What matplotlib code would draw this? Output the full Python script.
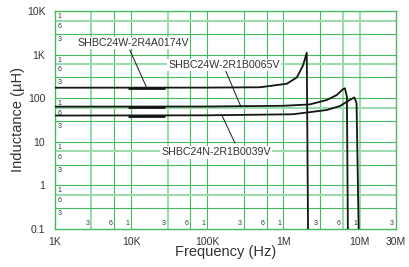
import numpy as np
import matplotlib
matplotlib.use('Agg')
import matplotlib.pyplot as plt

plt.rcParams['font.family'] = ['Liberation Sans', 'DejaVu Sans']

#%% data
# SHBC24W-2R4A0174V
f_a = [1e3, 1e5, 4.9e5, 1.11e6, 1.5e6, 1.8e6, 2.02e6, 2.1e6]
l_a = [174, 175, 178, 215, 300, 560, 1100, 0.1]
# SHBC24W-2R1B0065V
f_b = [1e3, 1e5, 1e6, 2.22e6, 3.7e6, 5.0e6, 6.0e6, 6.4e6, 6.8e6, 7.0e6]
l_b = [64, 64.5, 67, 72, 91, 118, 160, 169, 108, 0.1]
# SHBC24N-2R1B0039V
f_c = [1e3, 1e5, 1.33e6, 3.7e6, 5.5e6, 7.4e6, 8.5e6, 9.1e6, 9.7e6]
l_c = [40, 40.5, 42.8, 53.6, 66, 91, 104, 78, 0.1]

names = ['SHBC24W-2R4A0174V', 'SHBC24W-2R1B0065V', 'SHBC24N-2R1B0039V']
# label position (left edge), leader start, leader end
label_pos = [(1.95e3, 1845), (3.1e4, 577), (2.5e4, 5.8)]
leader_from = [(9.6e3, 1270), (1.7e5, 468), (2.3e5, 9.4)]
leader_to = [(1.6e4, 174), (2.76e5, 64), (1.56e5, 40)]

x_ticks = [1e3, 1e4, 1e5, 1e6, 1e7, 3e7]
x_labels = ['1K', '10K', '100K', '1M', '10M', '30M']
y_ticks = [0.1, 1, 10, 100, 1e3, 1e4]
y_labels = ['0.1', '1', '10', '100', '1K', '10K']

#%% plot
dark = '#45bb61'
light = '#9cdcac'
txt = '#333333'

fig = plt.figure(figsize=(4.09, 2.67), dpi=100)
ax = fig.add_axes([55/409, 38/267, 341/409, 218/267])
ax.set_xscale('log')
ax.set_yscale('log')
ax.set_xlim(1e3, 3e7)
ax.set_ylim(0.1, 1e4)

# grid lines 1-3-6
for dec in [1e3, 1e4, 1e5, 1e6, 1e7]:
    for m in [1, 3, 6]:
        v = dec * m
        if v <= 1e3 or v >= 3e7:
            continue
        is_light = v in (3e3, 3e4, 6e6, 1e7)
        ax.axvline(v, color=light if is_light else dark,
                   lw=1.5 if is_light else 0.8, zorder=1)
for dec in [0.1, 1, 10, 100, 1e3]:
    for m in [1, 3, 6]:
        v = dec * m
        if v <= 0.1:
            continue
        ax.axhline(v, color=light if m == 6 else dark,
                   lw=1.5 if m == 6 else 0.8, zorder=1)

# small 1/6/3 labels
for dec in [0.1, 1, 10, 100, 1e3]:
    for m in [10, 6, 3]:
        ax.annotate(str(1 if m == 10 else m), xy=(0, dec * m),
                    xycoords=('axes fraction', 'data'), xytext=(2, -1.5),
                    textcoords='offset points', ha='left', va='top',
                    fontsize=5, color=txt, zorder=2)
for dec in [1e3, 1e4, 1e5, 1e6, 1e7]:
    for m in [3, 6, 10]:
        v = dec * m
        if v > 3e7:
            continue
        ax.annotate(str(1 if m == 10 else m), xy=(v, 0),
                    xycoords=('data', 'axes fraction'), xytext=(-1.5, 1.5),
                    textcoords='offset points', ha='right', va='bottom',
                    fontsize=5, color=txt, zorder=2)

for f, l in [(f_a, l_a), (f_b, l_b), (f_c, l_c)]:
    ax.plot(f, l, color='#151515', lw=1.3, zorder=4)
    # thicker bit on the flat part
    ax.plot([9e3, 2.8e4], [l[0], l[0]], color='#151515', lw=2.0,
            solid_capstyle='butt', zorder=4)

for name, p, a, b in zip(names, label_pos, leader_from, leader_to):
    ax.plot([a[0], b[0]], [a[1], b[1]], color='#1a1a1a', lw=0.7, zorder=3)
    ax.text(p[0], p[1], name, ha='left', va='center', fontsize=7.7, color=txt,
            zorder=5, bbox=dict(facecolor='white', edgecolor='none', pad=1))

for s in ax.spines.values():
    s.set_color(dark)
    s.set_linewidth(1.0)

ax.set_xticks(x_ticks)
ax.set_xticklabels(x_labels)
ax.set_yticks(y_ticks)
ax.set_yticklabels(y_labels)
ax.minorticks_off()
ax.tick_params(length=0, labelsize=7.5, labelcolor=txt)
ax.tick_params(axis='x', pad=5.5)
ax.tick_params(axis='y', pad=7)

ax.set_xlabel('Frequency (Hz)', fontsize=10.5, color=txt, labelpad=-1)
ax.set_ylabel('Inductance (µH)', fontsize=10.5, color=txt, labelpad=1)

fig.savefig('out.png', dpi=100)
